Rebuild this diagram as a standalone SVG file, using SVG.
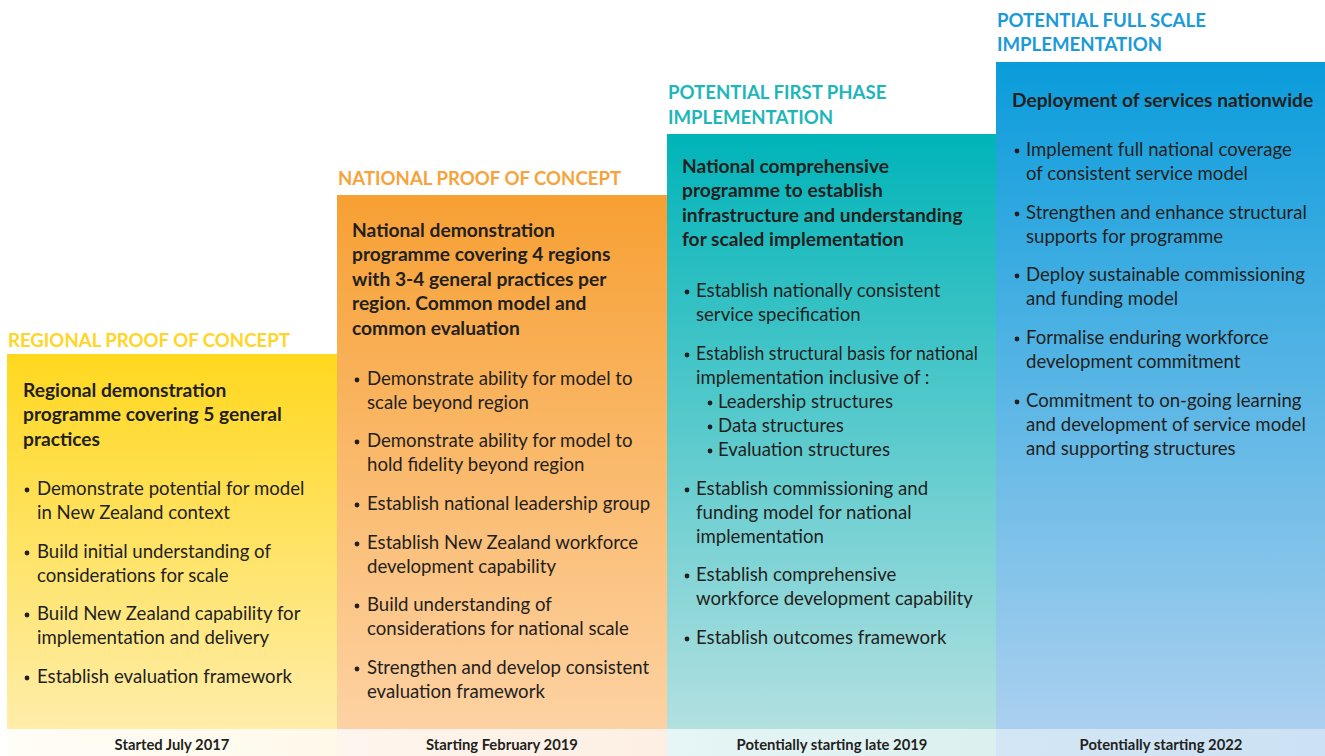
<svg xmlns="http://www.w3.org/2000/svg" width="1325" height="756" viewBox="0 0 1325 756">
  <defs>
    <linearGradient id="g-yellow" x1="0" y1="0" x2="0" y2="1">
      <stop offset="0" stop-color="#FFD81E"/>
      <stop offset="1" stop-color="#FFEDAA"/>
    </linearGradient>
    <linearGradient id="g-orange" x1="0" y1="0" x2="0" y2="1">
      <stop offset="0" stop-color="#F7A033"/>
      <stop offset="1" stop-color="#FDD2A3"/>
    </linearGradient>
    <linearGradient id="g-teal" x1="0" y1="0" x2="0" y2="1">
      <stop offset="0" stop-color="#00B4B8"/>
      <stop offset="1" stop-color="#B3E0E1"/>
    </linearGradient>
    <linearGradient id="g-blue" x1="0" y1="0" x2="0" y2="1">
      <stop offset="0" stop-color="#0A9CDB"/>
      <stop offset="1" stop-color="#ABD0EF"/>
    </linearGradient>
    <linearGradient id="s-yellow" x1="0" y1="0" x2="1" y2="0">
      <stop offset="0" stop-color="#FFFDF7"/>
      <stop offset="1" stop-color="#FFF9EA"/>
    </linearGradient>
    <linearGradient id="s-orange" x1="0" y1="0" x2="1" y2="0">
      <stop offset="0" stop-color="#FEF5EE"/>
      <stop offset="1" stop-color="#FDEFE3"/>
    </linearGradient>
    <linearGradient id="s-teal" x1="0" y1="0" x2="1" y2="0">
      <stop offset="0" stop-color="#E6F5F5"/>
      <stop offset="1" stop-color="#DCF0F0"/>
    </linearGradient>
    <linearGradient id="s-blue" x1="0" y1="0" x2="1" y2="0">
      <stop offset="0" stop-color="#D3E6F5"/>
      <stop offset="1" stop-color="#CCE1F3"/>
    </linearGradient>
  </defs>
  <style>
    text { font-family: Lato, "Liberation Sans", sans-serif; fill: #231F20; }
    .hdr { font-size: 18.6px; font-weight: 700; }
    .ttl { font-size: 19.2px; font-weight: 700; }
    .txt { font-size: 18.6px; }
    .date { font-size: 14.8px; font-weight: 700; text-anchor: middle; }
    .dot { fill: #231F20; }
  </style>

  <!-- Phase 1 -->
  <g id="phase-regional">
    <text class="hdr" x="8" y="347" style="fill:#FFD526">REGIONAL PROOF OF CONCEPT</text>
    <rect x="7" y="354" width="331" height="375" fill="url(#g-yellow)"/>
    <text class="ttl" x="23" y="397">Regional demonstration</text>
    <text class="ttl" x="23" y="421">programme covering 5 general</text>
    <text class="ttl" x="23" y="446">practices</text>
    <circle class="dot" cx="27" cy="490" r="2.4"/>
    <text class="txt" x="37" y="495">Demonstrate potential for model</text>
    <text class="txt" x="37" y="519">in New Zealand context</text>
    <circle class="dot" cx="27" cy="553" r="2.4"/>
    <text class="txt" x="37" y="558">Build initial understanding of</text>
    <text class="txt" x="37" y="582">considerations for scale</text>
    <circle class="dot" cx="27" cy="615" r="2.4"/>
    <text class="txt" x="37" y="620">Build New Zealand capability for</text>
    <text class="txt" x="37" y="644">implementation and delivery</text>
    <circle class="dot" cx="27" cy="678" r="2.4"/>
    <text class="txt" x="37" y="683">Establish evaluation framework</text>
    <rect x="7" y="729" width="331" height="27" fill="url(#s-yellow)"/>
    <text class="date" x="172" y="750">Started July 2017</text>
  </g>

  <!-- Phase 2 -->
  <g id="phase-national">
    <text class="hdr" x="338" y="185" style="fill:#F7A33C">NATIONAL PROOF OF CONCEPT</text>
    <rect x="337" y="195" width="331" height="534" fill="url(#g-orange)"/>
    <text class="ttl" x="352" y="237">National demonstration</text>
    <text class="ttl" x="352" y="261">programme covering 4 regions</text>
    <text class="ttl" x="352" y="286">with 3-4 general practices per</text>
    <text class="ttl" x="352" y="310">region. Common model and</text>
    <text class="ttl" x="352" y="335">common evaluation</text>
    <circle class="dot" cx="357" cy="380" r="2.4"/>
    <text class="txt" x="367" y="385">Demonstrate ability for model to</text>
    <text class="txt" x="367" y="409">scale beyond region</text>
    <circle class="dot" cx="357" cy="442" r="2.4"/>
    <text class="txt" x="367" y="447">Demonstrate ability for model to</text>
    <text class="txt" x="367" y="471">hold fidelity beyond region</text>
    <circle class="dot" cx="357" cy="505" r="2.4"/>
    <text class="txt" x="367" y="510">Establish national leadership group</text>
    <circle class="dot" cx="357" cy="544" r="2.4"/>
    <text class="txt" x="367" y="549">Establish New Zealand workforce</text>
    <text class="txt" x="367" y="573">development capability</text>
    <circle class="dot" cx="357" cy="606" r="2.4"/>
    <text class="txt" x="367" y="611">Build understanding of</text>
    <text class="txt" x="367" y="635">considerations for national scale</text>
    <circle class="dot" cx="357" cy="669" r="2.4"/>
    <text class="txt" x="367" y="674">Strengthen and develop consistent</text>
    <text class="txt" x="367" y="698">evaluation framework</text>
    <rect x="337" y="729" width="331" height="27" fill="url(#s-orange)"/>
    <text class="date" x="502" y="750">Starting February 2019</text>
  </g>

  <!-- Phase 3 -->
  <g id="phase-first">
    <text class="hdr" x="668" y="99" style="fill:#1DB6B9">POTENTIAL FIRST PHASE</text>
    <text class="hdr" x="668" y="124" style="fill:#1DB6B9">IMPLEMENTATION</text>
    <rect x="667" y="134" width="330" height="595" fill="url(#g-teal)"/>
    <text class="ttl" x="682" y="173">National comprehensive</text>
    <text class="ttl" x="682" y="197">programme to establish</text>
    <text class="ttl" x="682" y="222">infrastructure and understanding</text>
    <text class="ttl" x="682" y="246">for scaled implementation</text>
    <circle class="dot" cx="687" cy="292" r="2.4"/>
    <text class="txt" x="696" y="297">Establish nationally consistent</text>
    <text class="txt" x="696" y="321">service specification</text>
    <circle class="dot" cx="687" cy="355" r="2.4"/>
    <text class="txt" x="696" y="360" textLength="282" lengthAdjust="spacingAndGlyphs">Establish structural basis for national</text>
    <text class="txt" x="696" y="384">implementation inclusive of :</text>
    <circle class="dot" cx="710" cy="403" r="2.4"/>
    <text class="txt" x="718" y="408">Leadership structures</text>
    <circle class="dot" cx="710" cy="427" r="2.4"/>
    <text class="txt" x="718" y="432">Data structures</text>
    <circle class="dot" cx="710" cy="451" r="2.4"/>
    <text class="txt" x="718" y="456">Evaluation structures</text>
    <circle class="dot" cx="687" cy="490" r="2.4"/>
    <text class="txt" x="696" y="495">Establish commissioning and</text>
    <text class="txt" x="696" y="519">funding model for national</text>
    <text class="txt" x="696" y="543">implementation</text>
    <circle class="dot" cx="687" cy="576" r="2.4"/>
    <text class="txt" x="696" y="581">Establish comprehensive</text>
    <text class="txt" x="696" y="605">workforce development capability</text>
    <circle class="dot" cx="687" cy="639" r="2.4"/>
    <text class="txt" x="696" y="644">Establish outcomes framework</text>
    <rect x="667" y="729" width="330" height="27" fill="url(#s-teal)"/>
    <text class="date" x="832" y="750">Potentially starting late 2019</text>
  </g>

  <!-- Phase 4 -->
  <g id="phase-full">
    <text class="hdr" x="997" y="27" style="fill:#1A9AD7">POTENTIAL FULL SCALE</text>
    <text class="hdr" x="997" y="51" style="fill:#1A9AD7">IMPLEMENTATION</text>
    <rect x="996" y="62" width="329" height="667" fill="url(#g-blue)"/>
    <text class="ttl" x="1012" y="107">Deployment of services nationwide</text>
    <circle class="dot" cx="1017" cy="151" r="2.4"/>
    <text class="txt" x="1026" y="156">Implement full national coverage</text>
    <text class="txt" x="1026" y="180">of consistent service model</text>
    <circle class="dot" cx="1017" cy="214" r="2.4"/>
    <text class="txt" x="1026" y="219">Strengthen and enhance structural</text>
    <text class="txt" x="1026" y="243">supports for programme</text>
    <circle class="dot" cx="1017" cy="276" r="2.4"/>
    <text class="txt" x="1026" y="281">Deploy sustainable commissioning</text>
    <text class="txt" x="1026" y="305">and funding model</text>
    <circle class="dot" cx="1017" cy="339" r="2.4"/>
    <text class="txt" x="1026" y="344">Formalise enduring workforce</text>
    <text class="txt" x="1026" y="368">development commitment</text>
    <circle class="dot" cx="1017" cy="402" r="2.4"/>
    <text class="txt" x="1026" y="407">Commitment to on-going learning</text>
    <text class="txt" x="1026" y="431">and development of service model</text>
    <text class="txt" x="1026" y="455">and supporting structures</text>
    <rect x="996" y="729" width="329" height="27" fill="url(#s-blue)"/>
    <text class="date" x="1161" y="750">Potentially starting 2022</text>
  </g>
</svg>
